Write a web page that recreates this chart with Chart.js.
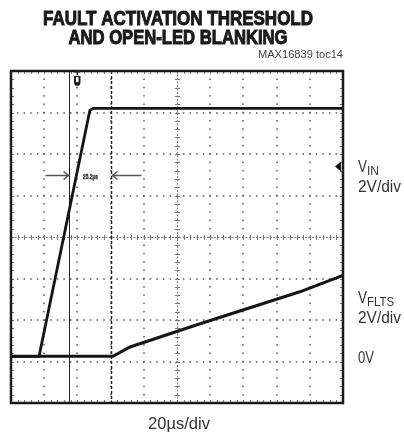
<!DOCTYPE html>
<html>
<head>
<meta charset="utf-8">
<script src="https://cdn.jsdelivr.net/npm/chart.js@4.4.1/dist/chart.umd.min.js"></script>
<style>
  html, body { margin: 0; padding: 0; background: #fff; }
  canvas { display: block; }
</style>
</head>
<body>
<canvas id="scope" width="404" height="434"></canvas>
<script>
// Scope settings: 20us/div, 2V/div, 0V sits ~1.1 div above the bottom
const xDivs = 10;
const yDivs = 8;
const usPerDiv = 20;
const voltsPerDiv = 2;
const yMin = -2.2;

// VIN trace (time in us, volts)
const vinTime = [0, 16.9, 47.5, 49.5, 200];
const vinVolts = [0.05, 0.05, 11.9, 12.0, 12.0];

// VFLTS trace
const vfltsTime = [0, 61.4, 71.7, 113.9, 174, 200];
const vfltsVolts = [0.05, 0.05, 0.5, 1.62, 3.16, 3.95];

// cursors and trigger
const cursorSolid = 34.9;
const cursorDashed = 60.2;
const cursorLabel = "25.2µs";
const triggerTime = 40;
const triggerLevel = 9.2;

const fontFace = '"Liberation Sans", Arial, sans-serif';

// draw text squeezed to a given width (the original uses a condensed face)
function fillFit(ctx, text, x, y, width, align, heavy) {
  const w = ctx.measureText(text).width;
  const s = width / w;
  ctx.save();
  ctx.translate(x, y);
  ctx.scale(s, 1);
  ctx.textAlign = align || "left";
  ctx.fillText(text, 0, 0);
  if (heavy) {
    ctx.lineWidth = heavy;
    ctx.strokeStyle = ctx.fillStyle;
    ctx.strokeText(text, 0, 0);
  }
  ctx.restore();
  return width;
}

const graticule = {
  id: "graticule",
  beforeDatasetsDraw(chart) {
    const ctx = chart.ctx;
    const xs = chart.scales.x, ys = chart.scales.y;
    const { left, right, top, bottom } = chart.chartArea;
    ctx.save();
    ctx.fillStyle = "#555";
    // dotted major lines
    for (let i = 1; i < xDivs; i++) {
      if (i === xDivs / 2) continue;
      const px = Math.round(xs.getPixelForValue(i * usPerDiv));
      for (let j = 1; j < yDivs * 5; j++) {
        const py = ys.getPixelForValue(yMin + j * voltsPerDiv / 5);
        ctx.fillRect(px - 0.75, py - 0.75, 1.5, 1.5);
      }
    }
    for (let k = 1; k < yDivs; k++) {
      if (k === yDivs / 2) continue;
      const py = Math.round(ys.getPixelForValue(yMin + k * voltsPerDiv));
      for (let j = 1; j < xDivs * 5; j++) {
        const px = xs.getPixelForValue(j * usPerDiv / 5);
        ctx.fillRect(px - 0.75, py - 0.75, 1.5, 1.5);
      }
    }
    // centre cross with ticks
    const cx = Math.round(xs.getPixelForValue(xDivs / 2 * usPerDiv)) + 0.5;
    const cy = Math.round(ys.getPixelForValue(yMin + yDivs / 2 * voltsPerDiv)) + 0.5;
    ctx.strokeStyle = "#777";
    ctx.lineWidth = 1;
    ctx.setLineDash([2, 1.5]);
    ctx.beginPath();
    ctx.moveTo(cx, top); ctx.lineTo(cx, bottom);
    ctx.moveTo(left, cy); ctx.lineTo(right, cy);
    ctx.stroke();
    ctx.setLineDash([]);
    ctx.beginPath();
    for (let j = 1; j < yDivs * 5; j++) {
      const py = Math.round(ys.getPixelForValue(yMin + j * voltsPerDiv / 5)) + 0.5;
      ctx.moveTo(cx - 2.5, py); ctx.lineTo(cx + 2.5, py);
    }
    for (let j = 1; j < xDivs * 5; j++) {
      const px = Math.round(xs.getPixelForValue(j * usPerDiv / 5)) + 0.5;
      ctx.moveTo(px, cy - 2.5); ctx.lineTo(px, cy + 2.5);
    }
    // frame ticks
    for (let j = 1; j < xDivs * 5; j++) {
      const px = Math.round(xs.getPixelForValue(j * usPerDiv / 5)) + 0.5;
      ctx.moveTo(px, top); ctx.lineTo(px, top + 3);
      ctx.moveTo(px, bottom); ctx.lineTo(px, bottom - 3);
    }
    for (let j = 1; j < yDivs * 5; j++) {
      const py = Math.round(ys.getPixelForValue(yMin + j * voltsPerDiv / 5)) + 0.5;
      ctx.moveTo(left, py); ctx.lineTo(left + 3, py);
      ctx.moveTo(right, py); ctx.lineTo(right - 3, py);
    }
    ctx.stroke();

    // cursors
    ctx.strokeStyle = "#222";
    const c1 = Math.round(xs.getPixelForValue(cursorSolid)) + 0.5;
    ctx.beginPath();
    ctx.moveTo(c1, top); ctx.lineTo(c1, bottom);
    ctx.stroke();
    const c2 = Math.round(xs.getPixelForValue(cursorDashed)) + 0.5;
    ctx.lineWidth = 1.5;
    ctx.setLineDash([3, 2]);
    ctx.beginPath();
    ctx.moveTo(c2, top); ctx.lineTo(c2, bottom);
    ctx.stroke();
    ctx.setLineDash([]);

    // delta arrows
    const ay = Math.round(ys.getPixelForValue(8.8)) + 0.5;
    const aLen = 24;
    ctx.strokeStyle = "#555";
    ctx.lineWidth = 1.5;
    ctx.beginPath();
    ctx.moveTo(c1 - aLen, ay); ctx.lineTo(c1 - 1, ay);
    ctx.moveTo(c1 - 6, ay - 4); ctx.lineTo(c1 - 1, ay); ctx.lineTo(c1 - 6, ay + 4);
    ctx.moveTo(c2 + aLen + 6, ay); ctx.lineTo(c2 + 1, ay);
    ctx.moveTo(c2 + 6, ay - 4); ctx.lineTo(c2 + 1, ay); ctx.lineTo(c2 + 6, ay + 4);
    ctx.stroke();
    ctx.fillStyle = "#333";
    ctx.font = "bold 8px " + fontFace;
    ctx.textBaseline = "middle";
    fillFit(ctx, cursorLabel, (c1 + c2) / 2, ay + 1.5, 15, "center", 0.4);
    ctx.restore();
  },
  afterDatasetsDraw(chart) {
    const ctx = chart.ctx;
    const xs = chart.scales.x, ys = chart.scales.y;
    const { left, right, top, bottom } = chart.chartArea;
    ctx.save();
    // frame
    ctx.strokeStyle = "#1a1a1a";
    ctx.lineWidth = 2.5;
    ctx.strokeRect(left, top, right - left, bottom - top);

    // trigger position marker
    const tx = Math.round(xs.getPixelForValue(triggerTime));
    ctx.fillStyle = "#222";
    ctx.fillRect(tx - 3, top, 6, 1.5);
    ctx.fillRect(tx - 0.5, top, 1.5, 4);
    ctx.beginPath();
    ctx.moveTo(tx - 3, top + 5);
    ctx.lineTo(tx + 3.5, top + 5);
    ctx.lineTo(tx + 3.5, top + 11);
    ctx.quadraticCurveTo(tx + 3.5, top + 15, tx + 0.25, top + 15);
    ctx.quadraticCurveTo(tx - 3, top + 15, tx - 3, top + 11);
    ctx.closePath();
    ctx.fill();
    ctx.fillStyle = "#fff";
    ctx.fillRect(tx - 1, top + 6, 2.5, 5);

    // trigger level marker
    const ty = ys.getPixelForValue(triggerLevel);
    ctx.fillStyle = "#111";
    ctx.beginPath();
    ctx.moveTo(right - 8, ty);
    ctx.lineTo(right - 2, ty - 5);
    ctx.lineTo(right - 2, ty + 5);
    ctx.closePath();
    ctx.fill();
    ctx.restore();
  },
  afterDraw(chart) {
    const ctx = chart.ctx;
    const ys = chart.scales.y;
    const { left, right } = chart.chartArea;
    ctx.save();
    ctx.fillStyle = "#1a1a1a";
    ctx.textBaseline = "alphabetic";
    ctx.font = "bold 20px " + fontFace;
    fillFit(ctx, "FAULT ACTIVATION THRESHOLD", 178, 25, 270, "center", 1);
    fillFit(ctx, "AND OPEN-LED BLANKING", 178, 43.5, 219, "center", 1);
    ctx.font = "10px " + fontFace;
    ctx.fillStyle = "#444";
    fillFit(ctx, "MAX16839 toc14", right, 58, 85, "right");

    ctx.fillStyle = "#333";
    const lx = right + 15;
    ctx.font = "17px " + fontFace;
    let w = fillFit(ctx, "V", lx, 172, 9);
    ctx.font = "12px " + fontFace;
    fillFit(ctx, "IN", lx + w, 175, 12);
    ctx.font = "17px " + fontFace;
    fillFit(ctx, "2V/div", lx, 192, 43);
    fillFit(ctx, "V", lx, 303, 9);
    ctx.font = "12px " + fontFace;
    fillFit(ctx, "FLTS", lx + w, 306, 27);
    ctx.font = "17px " + fontFace;
    fillFit(ctx, "2V/div", lx, 323, 43);
    fillFit(ctx, "0V", lx, ys.getPixelForValue(0) + 6, 16);
    fillFit(ctx, "20µs/div", (left + right) / 2 + 2, 429, 62, "center");
    ctx.restore();
  }
};

new Chart(document.getElementById("scope"), {
  type: "scatter",
  data: {
    datasets: [
      {
        label: "VIN",
        data: vinTime.map((t, i) => ({ x: t, y: vinVolts[i] })),
        showLine: true,
        borderColor: "#151515",
        borderWidth: 2.8,
        pointRadius: 0,
        tension: 0
      },
      {
        label: "VFLTS",
        data: vfltsTime.map((t, i) => ({ x: t, y: vfltsVolts[i] })),
        showLine: true,
        borderColor: "#151515",
        borderWidth: 3,
        pointRadius: 0,
        tension: 0
      }
    ]
  },
  options: {
    responsive: false,
    animation: false,
    layout: { padding: { left: 11, right: 61, top: 71, bottom: 31 } },
    plugins: { legend: { display: false }, tooltip: { enabled: false } },
    scales: {
      x: { type: "linear", min: 0, max: xDivs * usPerDiv, display: false },
      y: { type: "linear", min: yMin, max: yMin + yDivs * voltsPerDiv, display: false }
    }
  },
  plugins: [graticule]
});
</script>
</body>
</html>
